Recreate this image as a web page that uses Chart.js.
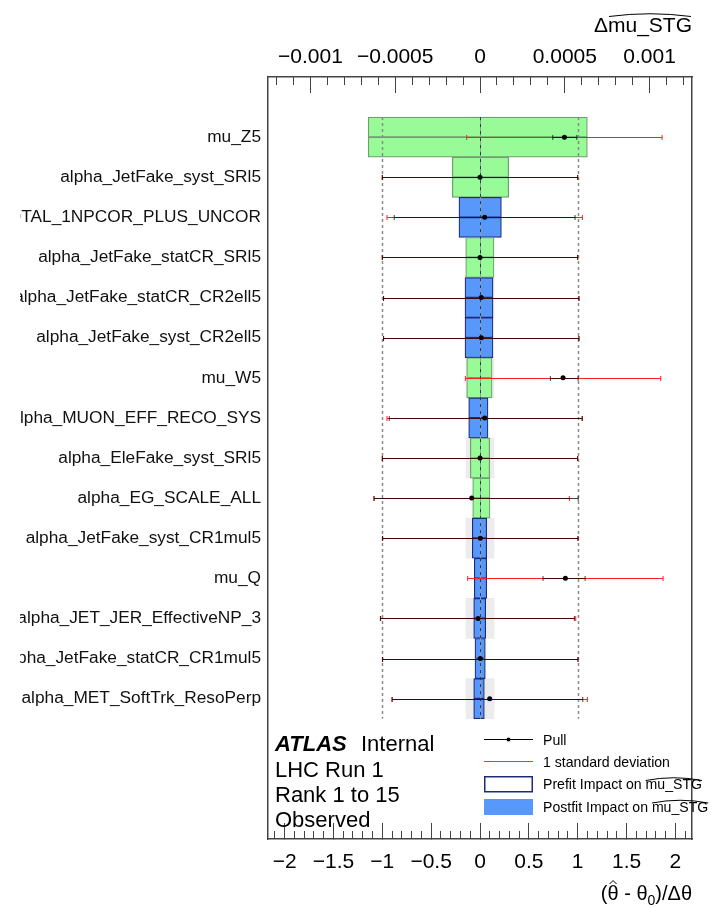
<!DOCTYPE html>
<html>
<head>
<meta charset="UTF-8" />
<title>Ranking of nuisance parameters</title>
<script src="https://cdn.jsdelivr.net/npm/chart.js"></script>
<style>
  html, body { margin: 0; padding: 0; background: #fff; }
  canvas { display: block; }
</style>
</head>
<body>
<canvas id="ranking" width="712" height="908"></canvas>
<script>
const names = [
  'mu_Z5',
  'alpha_JetFake_syst_SRl5',
  'alpha_EL_EFF_ID_TOTAL_1NPCOR_PLUS_UNCOR',
  'alpha_JetFake_statCR_SRl5',
  'alpha_JetFake_statCR_CR2ell5',
  'alpha_JetFake_syst_CR2ell5',
  'mu_W5',
  'alpha_MUON_EFF_RECO_SYS',
  'alpha_EleFake_syst_SRl5',
  'alpha_EG_SCALE_ALL',
  'alpha_JetFake_syst_CR1mul5',
  'mu_Q',
  'alpha_JET_JER_EffectiveNP_3',
  'alpha_JetFake_statCR_CR1mul5',
  'alpha_MET_SoftTrk_ResoPerp'
]
// g = green box, b = blue box
const rowColour = ['g', 'g', 'b', 'g', 'b', 'b', 'g', 'b', 'g', 'g', 'b', 'b', 'b', 'b', 'b']

// impact on mu_STG (top axis), lower / upper edge of the box
const impactLo = [-0.000659, -0.000163, -0.000124, -0.0000843, -0.0000884, -0.0000884, -0.0000784,
  -0.0000666, -0.0000572, -0.000043, -0.0000454, -0.0000336, -0.0000371, -0.0000295, -0.0000371]
const impactHi = [0.000633, 0.000169, 0.000126, 0.0000825, 0.0000767, 0.0000767, 0.0000708,
  0.0000472, 0.0000572, 0.000059, 0.0000395, 0.0000395, 0.0000336, 0.0000313, 0.0000254]
// faint grey band behind the even rows
const shadeLo = [-0.0000825, null, -0.0000825, null, -0.0000825, null, -0.0000825, null,
  -0.0000825, null, -0.0000825, null, -0.0000825, null, -0.0000825]
const shadeHi = [0.0000825, null, 0.0000825, null, 0.0000825, null, 0.0000825, null,
  0.0000825, null, 0.0000825, null, 0.0000825, null, 0.0000825]

// pulls (bottom axis) and their post-fit errors
const pulls = [0.864, 0, 0.048, 0, 0.013, 0.013, 0.85, 0.048, 0, -0.085, 0.003, 0.874, -0.02, 0.003, 0.099]
const pullErrLo = [0.119, 1.0, 0.926, 1.0, 1.0, 1.0, 0.13, 0.977, 1.0, 1.0, 1.0, 0.229, 0.997, 1.0, 0.998]
const pullErrHi = [0.127, 1.0, 0.925, 1.0, 1.0, 1.0, 0.154, 0.997, 1.0, 1.09, 1.0, 0.202, 0.986, 1.0, 0.953]

const pullTicks = [-2, -1.5, -1, -0.5, 0, 0.5, 1, 1.5, 2]
const pullTickLabels = ['\u22122', '\u22121.5', '\u22121', '\u22120.5', '0', '0.5', '1', '1.5', '2']
const impactTicks = [-0.001, -0.0005, 0, 0.0005, 0.001]
const impactTickLabels = ['\u22120.001', '\u22120.0005', '0', '0.0005', '0.001']

const FONT = '"Liberation Sans", Arial, Helvetica, sans-serif'
const GREEN = 'rgb(152, 251, 152)'
const GREEN_EDGE = '#6f9f6f'
const BLUE = 'rgb(88, 152, 250)'
const BLUE_EDGE = '#1f2a7a'
const FRAME = '#444'

Chart.defaults.font.family = FONT

function minorTicks(step, lo, hi) {
  const out = []
  for (let k = Math.ceil(lo / step); k * step <= hi; k++) out.push({ value: k * step })
  return out
}

// error bars and reference lines, drawn just before the pull markers
const pullLines = {
  id: 'pullLines',
  beforeDatasetDraw(chart, args) {
    if (args.meta.type !== 'scatter') return
    const ctx = chart.ctx
    const x = chart.scales.x
    const y = chart.scales.y
    const yTop = y.getPixelForValue(-0.5)
    const yBot = y.getPixelForValue(names.length - 0.5)
    ctx.save()

    ctx.lineWidth = 1.5
    ctx.strokeStyle = '#8a8a8a'
    ctx.setLineDash([3, 3])
    ;[-1, 1].forEach(v => {
      const px = Math.round(x.getPixelForValue(v)) + 0.5
      ctx.beginPath(); ctx.moveTo(px, yTop); ctx.lineTo(px, yBot); ctx.stroke()
    })
    const p0 = Math.round(x.getPixelForValue(0)) + 0.5
    ctx.setLineDash([])
    ctx.lineWidth = 1
    ctx.strokeStyle = '#9a9a9a'
    ctx.beginPath(); ctx.moveTo(p0, yTop); ctx.lineTo(p0, yBot); ctx.stroke()
    ctx.setLineDash([3, 4])
    ctx.strokeStyle = '#1d3f5c'
    ctx.beginPath(); ctx.moveTo(p0, yTop); ctx.lineTo(p0, yBot); ctx.stroke()
    ctx.setLineDash([])

    const hbar = (a, b, py, colour) => {
      const xa = x.getPixelForValue(a)
      const xb = x.getPixelForValue(b)
      ctx.strokeStyle = colour
      ctx.lineWidth = 1
      ctx.beginPath()
      ctx.moveTo(xa, py); ctx.lineTo(xb, py)
      ctx.moveTo(xa, py - 2.5); ctx.lineTo(xa, py + 2.5)
      ctx.moveTo(xb, py - 2.5); ctx.lineTo(xb, py + 2.5)
      ctx.stroke()
    }
    pulls.forEach((p, i) => {
      const py = Math.round(y.getPixelForValue(i)) + 0.5
      hbar(p - 1, p + 1, py, '#ff2020')
      hbar(p - pullErrLo[i], p + pullErrHi[i], py, 'rgba(0,0,0,0.75)')
    })
    ctx.restore()
  }
}

function wideHat(ctx, x0, x1, y) {
  ctx.beginPath()
  ctx.moveTo(x0, y + 2.5)
  ctx.quadraticCurveTo((x0 + x1) / 2, y - 3, x1, y + 2.5)
  ctx.lineWidth = 1
  ctx.strokeStyle = '#000'
  ctx.stroke()
}

const decorations = {
  id: 'decorations',
  afterDraw(chart) {
    const ctx = chart.ctx
    const area = chart.chartArea
    ctx.save()
    // original canvas was cut on the left
    ctx.fillStyle = '#fff'
    ctx.fillRect(0, 0, 20, chart.height)

    ctx.fillStyle = '#000'
    ctx.textBaseline = 'alphabetic'

    // top axis title
    ctx.font = `21px ${FONT}`
    ctx.textAlign = 'right'
    const topTitle = '\u0394mu_STG'
    ctx.fillText(topTitle, area.right, 32)
    const wTop = ctx.measureText(topTitle).width
    const wDelta = ctx.measureText('\u0394').width
    wideHat(ctx, area.right - wTop + wDelta + 1, area.right - 1, 14)

    // bottom axis title  (θ̂ - θ0)/Δθ
    ctx.textAlign = 'left'
    ctx.font = `20px ${FONT}`
    const wOpen = ctx.measureText('(').width
    const wTh = ctx.measureText('\u03b8').width
    const wMid = ctx.measureText(' - \u03b8').width
    const wEnd = ctx.measureText(')/\u0394\u03b8').width
    ctx.font = `14px ${FONT}`
    const wSub = ctx.measureText('0').width
    let bx = area.right - (wOpen + wTh + wMid + wSub + wEnd)
    const by = 900
    ctx.font = `20px ${FONT}`
    ctx.fillText('(', bx, by); bx += wOpen
    ctx.fillText('\u03b8', bx, by)
    const hc = bx + wTh / 2
    ctx.beginPath()
    ctx.moveTo(hc - 3.5, by - 16); ctx.lineTo(hc, by - 19.5); ctx.lineTo(hc + 3.5, by - 16)
    ctx.lineWidth = 1; ctx.strokeStyle = '#000'; ctx.stroke()
    bx += wTh
    ctx.fillText(' - \u03b8', bx, by); bx += wMid
    ctx.font = `14px ${FONT}`
    ctx.fillText('0', bx, by + 5); bx += wSub
    ctx.font = `20px ${FONT}`
    ctx.fillText(')/\u0394\u03b8', bx, by)

    // ATLAS label
    ctx.font = `italic bold 22px ${FONT}`
    ctx.fillText('ATLAS', 275, 751)
    ctx.font = `22px ${FONT}`
    ctx.fillText('Internal', 361, 751)
    ctx.fillText('LHC Run 1', 275, 776.5)
    ctx.fillText('Rank 1 to 15', 275, 801.5)
    ctx.fillText('Observed', 275, 826.5)

    // legend
    const lx0 = 484, lx1 = 533, tx = 543
    ctx.font = `14.1px ${FONT}`
    ctx.lineWidth = 1
    ctx.strokeStyle = '#000'
    ctx.beginPath(); ctx.moveTo(lx0, 739.5); ctx.lineTo(lx1, 739.5); ctx.stroke()
    ctx.beginPath(); ctx.arc((lx0 + lx1) / 2, 739.5, 2, 0, Math.PI * 2); ctx.fill()
    ctx.fillText('Pull', tx, 744.5)

    ctx.strokeStyle = '#ff3030'
    ctx.lineWidth = 1.2
    ctx.beginPath(); ctx.moveTo(lx0, 761.5); ctx.lineTo(lx1, 761.5); ctx.stroke()
    ctx.fillText('1 standard deviation', tx, 766.5)

    ctx.strokeStyle = BLUE_EDGE
    ctx.lineWidth = 1.5
    ctx.strokeRect(lx0 + 0.75, 776.75, lx1 - lx0 - 1.5, 15)
    const pre = 'Prefit Impact on '
    ctx.fillText(pre + 'mu_STG', tx, 789)
    let hx = tx + ctx.measureText(pre).width
    wideHat(ctx, hx, hx + ctx.measureText('mu_STG').width, 778)

    ctx.fillStyle = BLUE
    ctx.fillRect(lx0, 799, lx1 - lx0, 16)
    ctx.fillStyle = '#000'
    const post = 'Postfit Impact on '
    ctx.fillText(post + 'mu_STG', tx, 811.5)
    hx = tx + ctx.measureText(post).width
    wideHat(ctx, hx, hx + ctx.measureText('mu_STG').width, 800.5)

    ctx.restore()
  }
}

const rows = names.map((_, i) => i)
const fills = rowColour.map(c => (c === 'g' ? GREEN : BLUE))
const edges = rowColour.map(c => (c === 'g' ? GREEN_EDGE : BLUE_EDGE))
// each box is drawn as an upper and a lower half of its row
const upperBoxes = rows.map(i => ({ y: i - 0.25, x: [impactLo[i], impactHi[i]] }))
const lowerBoxes = rows.map(i => ({ y: i + 0.25, x: [impactLo[i], impactHi[i]] }))
const shadeBoxes = rows.filter(i => shadeLo[i] !== null).flatMap(i => [
  { y: i - 0.25, x: [shadeLo[i], shadeHi[i]] },
  { y: i + 0.25, x: [shadeLo[i], shadeHi[i]] }
])

const barCommon = {
  type: 'bar',
  indexAxis: 'y',
  xAxisID: 'x2',
  yAxisID: 'y',
  grouped: false,
  barPercentage: 1,
  categoryPercentage: 1,
  borderSkipped: false
}

const pullRange = { min: -2.17, max: 2.17 }
const impactRange = { min: -0.00125, max: 0.00125 }
const rowRange = { min: -1.5, max: 17.5 }

const inwardTicks = len => ({
  display: true, offset: false, drawOnChartArea: false, drawTicks: true,
  tickLength: -len, tickColor: FRAME, tickWidth: 1
})

new Chart(document.getElementById('ranking'), {
  type: 'bar',
  data: {
    datasets: [
      Object.assign({}, barCommon, {
        label: 'shade', data: shadeBoxes, order: 3,
        backgroundColor: '#ececec', borderWidth: 0
      }),
      Object.assign({}, barCommon, {
        label: 'impact (upper)', data: upperBoxes, order: 2,
        backgroundColor: fills, borderColor: edges, borderWidth: 1.2
      }),
      Object.assign({}, barCommon, {
        label: 'impact (lower)', data: lowerBoxes, order: 2,
        backgroundColor: fills, borderColor: edges, borderWidth: 1.2
      }),
      {
        type: 'scatter',
        label: 'Pull',
        data: rows.map(i => ({ x: pulls[i], y: i })),
        xAxisID: 'x',
        yAxisID: 'y',
        order: 0,
        pointRadius: 2.5,
        pointBackgroundColor: '#000',
        pointBorderWidth: 0
      }
    ]
  },
  options: {
    responsive: false,
    animation: false,
    events: [],
    plugins: { legend: { display: false }, tooltip: { enabled: false } },
    scales: {
      x: Object.assign({}, pullRange, {
        type: 'linear', axis: 'x', position: 'bottom', weight: 1, offset: false,
        afterBuildTicks: s => { s.ticks = pullTicks.map(v => ({ value: v })) },
        afterFit: s => { s.height = 69 },
        grid: inwardTicks(16),
        border: { display: true, color: FRAME, width: 1.5 },
        ticks: {
          autoSkip: false, maxRotation: 0, minRotation: 0, padding: 27, color: '#000',
          font: { size: 21 }, callback: (v, i) => pullTickLabels[i]
        }
      }),
      xMinor: Object.assign({}, pullRange, {
        type: 'linear', axis: 'x', position: 'bottom', weight: 0, offset: false,
        afterBuildTicks: s => { s.ticks = minorTicks(0.1, -2.17, 2.17) },
        afterFit: s => { s.height = 0 },
        grid: inwardTicks(8),
        border: { display: false },
        ticks: { display: false }
      }),
      x2: Object.assign({}, impactRange, {
        type: 'linear', axis: 'x', position: 'top', weight: 1, offset: false,
        afterBuildTicks: s => { s.ticks = impactTicks.map(v => ({ value: v })) },
        afterFit: s => { s.height = 77 },
        grid: inwardTicks(16),
        border: { display: true, color: FRAME, width: 1.5 },
        ticks: {
          autoSkip: false, maxRotation: 0, minRotation: 0, padding: 23, color: '#000',
          font: { size: 21 }, callback: (v, i) => impactTickLabels[i]
        }
      }),
      x2Minor: Object.assign({}, impactRange, {
        type: 'linear', axis: 'x', position: 'top', weight: 0, offset: false,
        afterBuildTicks: s => { s.ticks = minorTicks(0.0001, -0.00125, 0.00125) },
        afterFit: s => { s.height = 0 },
        grid: inwardTicks(8),
        border: { display: false },
        ticks: { display: false }
      }),
      y: Object.assign({}, rowRange, {
        type: 'linear', axis: 'y', position: 'left', reverse: true, offset: false,
        afterBuildTicks: s => { s.ticks = rows.map(i => ({ value: i })) },
        afterFit: s => { s.width = 268 },
        grid: { display: false, drawTicks: false, offset: false },
        border: { display: true, color: FRAME, width: 1.5 },
        ticks: {
          autoSkip: false, padding: 7, color: '#111',
          font: { size: 17.3 }, callback: (v, i) => names[i]
        }
      }),
      yRight: Object.assign({}, rowRange, {
        type: 'linear', axis: 'y', position: 'right', reverse: true, offset: false,
        afterFit: s => { s.width = 20 },
        grid: { display: false, drawTicks: false, offset: false },
        border: { display: true, color: FRAME, width: 1.5 },
        ticks: { display: false }
      })
    }
  },
  plugins: [pullLines, decorations]
})
</script>
</body>
</html>
